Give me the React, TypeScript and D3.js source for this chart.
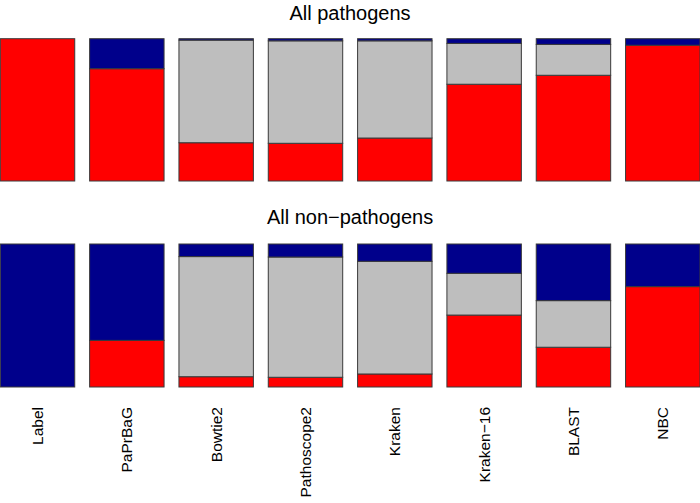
import React from "react";
import * as d3 from "d3";

const categories = ["Label", "PaPrBaG", "Bowtie2", "Pathoscope2", "Kraken", "Kraken\u221216", "BLAST", "NBC"];

// fractions, stacked bottom-up: red (pathogen call), gray (unclassified), blue (non-pathogen call)
const pathRed = [1.0, 0.789, 0.269, 0.265, 0.302, 0.68, 0.743, 0.954];
const pathGray = [0.0, 0.0, 0.721, 0.72, 0.683, 0.287, 0.217, 0.0];
const pathBlue = [0.0, 0.211, 0.01, 0.015, 0.015, 0.033, 0.04, 0.046];

const nonRed = [0.0, 0.326, 0.072, 0.068, 0.091, 0.503, 0.278, 0.702];
const nonGray = [0.0, 0.0, 0.84, 0.841, 0.788, 0.292, 0.326, 0.0];
const nonBlue = [1.0, 0.674, 0.088, 0.091, 0.121, 0.205, 0.396, 0.298];

const titles = ["All pathogens", "All non\u2212pathogens"];

const W = 700;
const H = 503;
const COLORS = ["#FF0000", "#BEBEBE", "#00008B"];

function Panel({ top, bottom, red, gray, blue, x }: any) {
  const y = d3.scaleLinear().domain([0, 1]).range([bottom, top]);
  const rows = categories.map((c, i) => ({ c, vals: [red[i], gray[i], blue[i]] }));
  const stack = d3.stack<any>().keys([0, 1, 2] as any).value((d: any, k: any) => d.vals[k]);
  const series = stack(rows as any);
  return (
    <g>
      {series.map((s: any, k: number) =>
        s.map((d: any, i: number) => {
          const h = y(d[0]) - y(d[1]);
          if (h <= 0.01) return null;
          return (
            <rect
              key={`${k}-${i}`}
              x={x(categories[i])}
              y={y(d[1])}
              width={x.bandwidth()}
              height={h}
              fill={COLORS[k]}
              stroke="#3a3a3a"
              strokeWidth={1}
            />
          );
        })
      )}
    </g>
  );
}

export default function App() {
  const x = d3.scaleBand<string>().domain(categories).range([0.3, 700]).paddingInner(1 / 6).paddingOuter(0);
  return (
    <svg width={W} height={H} style={{ position: "absolute", left: 0, top: 0, background: "#fff" }} fontFamily="'Liberation Sans', Arial, sans-serif">
      <rect x={0} y={0} width={W} height={H} fill="#fff" />
      <text x={350} y={20} textAnchor="middle" fontSize={20}>{titles[0]}</text>
      <text x={350} y={224} textAnchor="middle" fontSize={20}>{titles[1]}</text>
      <Panel top={38.7} bottom={181} red={pathRed} gray={pathGray} blue={pathBlue} x={x} />
      <Panel top={244} bottom={387} red={nonRed} gray={nonGray} blue={nonBlue} x={x} />
      {categories.map((c) => {
        const cx = (x(c) as number) + x.bandwidth() / 2;
        return (
          <text
            key={c}
            transform={`translate(${cx + 5.6},407) rotate(-90)`}
            textAnchor="end"
            fontSize={15.5}
          >
            {c}
          </text>
        );
      })}
    </svg>
  );
}
